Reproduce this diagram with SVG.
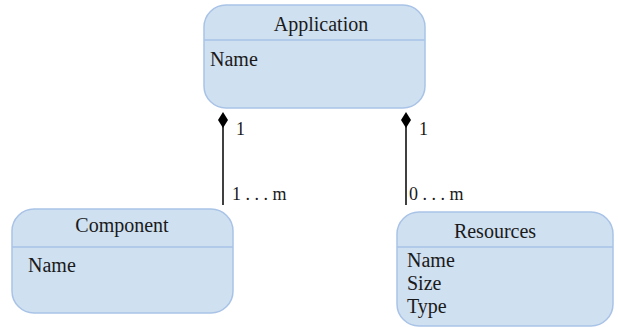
<svg xmlns="http://www.w3.org/2000/svg" width="618" height="327" viewBox="0 0 618 327">
<style>
.box{fill:#cfe0f1;stroke:#a9c3e7;stroke-width:1.5}
.sep{stroke:#a9c3e7;stroke-width:1.5}
text{font-family:"Liberation Serif","DejaVu Serif","Times New Roman",serif;font-size:20px;fill:#1a1a1a}
.t{text-anchor:middle}
.l{font-size:18px}
.c{stroke:#000;stroke-width:1.5;fill:none}
.d{fill:#000}
</style>
<g id="application">
<rect class="box" x="204" y="5" width="221" height="103" rx="22"/>
<line class="sep" x1="204" y1="40" x2="425" y2="40"/>
<text class="t" x="321" y="31">Application</text>
<text x="210" y="66">Name</text>
</g>
<g id="component">
<rect class="box" x="12" y="209" width="221" height="104" rx="22"/>
<line class="sep" x1="12" y1="247" x2="233" y2="247"/>
<text class="t" x="122" y="232">Component</text>
<text x="28" y="272">Name</text>
</g>
<g id="resources">
<rect class="box" x="397" y="212" width="216" height="114" rx="22"/>
<line class="sep" x1="397" y1="247" x2="613" y2="247"/>
<text class="t" x="495" y="238">Resources</text>
<text x="407" y="267">Name</text>
<text x="407" y="290">Size</text>
<text x="407" y="313">Type</text>
</g>
<g id="connectors">
<line class="c" x1="223" y1="205" x2="223" y2="120"/>
<path class="d" d="M223,112 L228,120 L223,128 L218,120 Z"/>
<line class="c" x1="406" y1="205" x2="406" y2="120"/>
<path class="d" d="M406,112 L411,120 L406,128 L401,120 Z"/>
<text class="l" x="236" y="135">1</text>
<text class="l" x="232" y="200">1 . . . m</text>
<text class="l" x="419" y="135">1</text>
<text class="l" x="409" y="200">0 . . . m</text>
</g>
</svg>
